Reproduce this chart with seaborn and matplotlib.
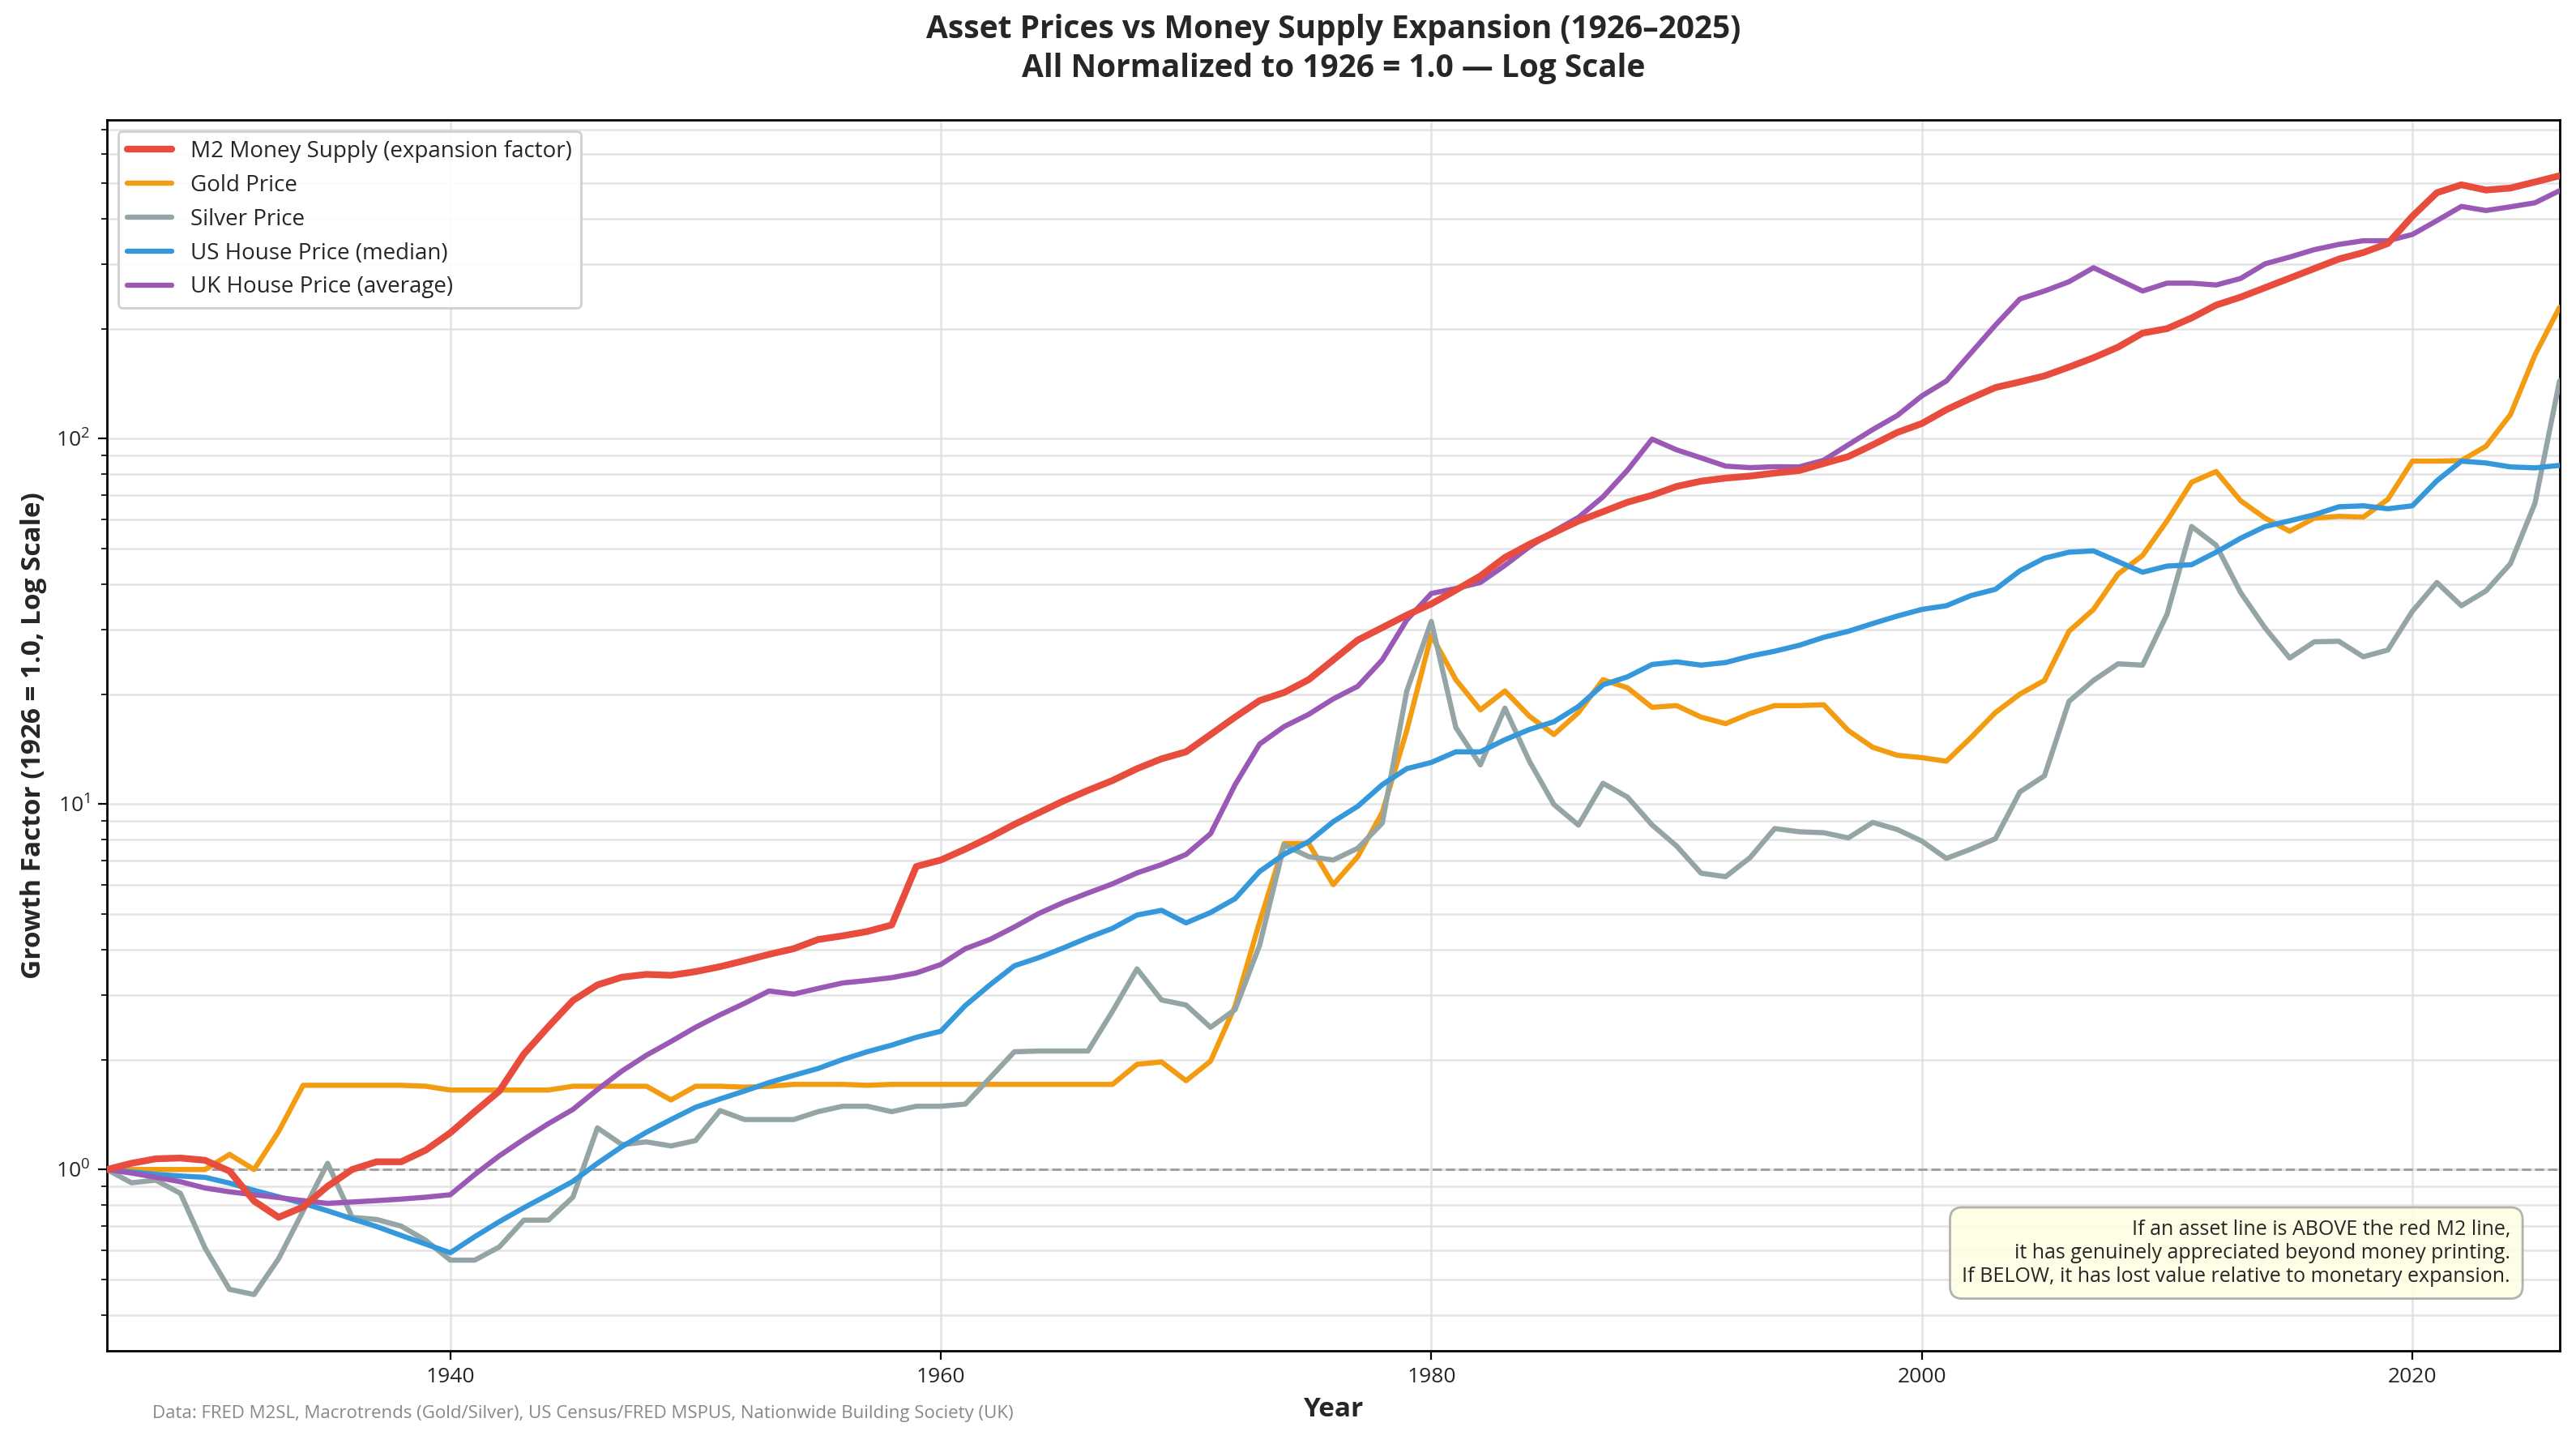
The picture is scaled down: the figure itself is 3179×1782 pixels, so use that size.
import numpy as np
import pandas as pd
import matplotlib
matplotlib.use("Agg")
import matplotlib.pyplot as plt
import matplotlib.ticker as mticker
import seaborn as sns

years = list(range(1926, 2027))

m2 = [1.00, 1.04, 1.07, 1.075, 1.06, 0.99, 0.82, 0.74, 0.79, 0.90,
      1.00, 1.05, 1.05, 1.13, 1.26, 1.44, 1.64, 2.07, 2.46, 2.90,
      3.20, 3.36, 3.42, 3.40, 3.48, 3.59, 3.73, 3.88, 4.02, 4.26,
      4.36, 4.48, 4.67, 6.75, 7.03, 7.53, 8.11, 8.80, 9.47, 10.2,
      10.9, 11.6, 12.5, 13.3, 13.9, 15.5, 17.3, 19.2, 20.2, 21.9,
      24.8, 28.1, 30.4, 32.9, 35.3, 38.5, 42.1, 47.3, 51.4, 55.3,
      59.5, 63.1, 67.0, 70.0, 74.0, 76.5, 78.0, 79.0, 80.5, 81.8,
      85.5, 89.3, 96.2, 104, 110, 120, 129, 138, 143, 148.5,
      157, 166.5, 178, 194.5, 200, 214, 232, 244, 259, 275,
      292, 310, 323, 342, 406, 471, 495, 479, 485, 504, 524]

gold = [1.00, 1.00, 1.00, 1.00, 1.00, 1.10, 1.00, 1.27, 1.70, 1.70,
        1.70, 1.70, 1.70, 1.69, 1.65, 1.65, 1.65, 1.65, 1.65, 1.69,
        1.69, 1.69, 1.69, 1.55, 1.69, 1.69, 1.68, 1.69, 1.71, 1.71,
        1.71, 1.70, 1.71, 1.71, 1.71, 1.71, 1.71, 1.71, 1.71, 1.71,
        1.71, 1.71, 1.94, 1.97, 1.75, 1.98, 2.80, 4.76, 7.8, 7.8,
        6.02, 7.18, 9.49, 15.9, 29.0, 21.9, 18.1, 20.4, 17.4, 15.5,
        17.8, 21.9, 20.8, 18.4, 18.6, 17.3, 16.6, 17.7, 18.6, 18.6,
        18.7, 15.9, 14.3, 13.6, 13.4, 13.1, 15.2, 17.8, 20.0, 21.8,
        29.7, 34.1, 42.6, 47.9, 59.6, 76.0, 81.3, 67.6, 60.6, 55.8,
        60.6, 61.3, 61.0, 68.2, 86.8, 86.8, 87.1, 95.3, 116.4, 169.5, 228.7]

silver = [1.00, 0.92, 0.935, 0.86, 0.61, 0.47, 0.455, 0.57, 0.77, 1.04,
          0.74, 0.73, 0.70, 0.64, 0.565, 0.565, 0.614, 0.727, 0.727, 0.84,
          1.30, 1.17, 1.19, 1.16, 1.20, 1.45, 1.37, 1.37, 1.37, 1.44,
          1.49, 1.49, 1.44, 1.49, 1.49, 1.51, 1.78, 2.10, 2.11, 2.11,
          2.11, 2.71, 3.54, 2.91, 2.82, 2.45, 2.74, 4.11, 7.73, 7.18,
          7.03, 7.57, 8.87, 20.4, 31.6, 16.2, 12.8, 18.3, 13.1, 9.97,
          8.76, 11.4, 10.45, 8.77, 7.68, 6.47, 6.33, 7.14, 8.57, 8.40,
          8.35, 8.08, 8.91, 8.52, 7.92, 7.10, 7.53, 8.04, 10.8, 11.95,
          19.1, 21.8, 24.2, 24.0, 33.1, 57.5, 51.1, 37.9, 30.3, 25.1,
          27.8, 27.9, 25.3, 26.4, 33.7, 40.4, 34.9, 38.3, 45.5, 66.6, 143.8]

us_house = [1.00, 0.985, 0.97, 0.96, 0.952, 0.918, 0.877, 0.842, 0.808, 0.771,
            0.733, 0.698, 0.66, 0.625, 0.592, 0.655, 0.72, 0.786, 0.853, 0.928,
            1.04, 1.155, 1.265, 1.37, 1.48, 1.56, 1.64, 1.73, 1.81, 1.89,
            2.00, 2.10, 2.19, 2.30, 2.39, 2.81, 3.20, 3.61, 3.80, 4.04,
            4.31, 4.57, 4.97, 5.12, 4.73, 5.05, 5.51, 6.54, 7.29, 7.89,
            8.95, 9.86, 11.3, 12.5, 13.0, 13.9, 13.9, 15.0, 16.0, 16.8,
            18.5, 21.2, 22.3, 24.1, 24.5, 24.0, 24.4, 25.4, 26.2, 27.2,
            28.6, 29.7, 31.2, 32.7, 34.1, 34.9, 37.2, 38.7, 43.5, 47.1,
            48.9, 49.3, 46.1, 43.1, 44.8, 45.2, 48.9, 53.4, 57.5, 59.6,
            61.9, 65.1, 65.5, 64.3, 65.5, 76.7, 86.8, 85.8, 83.7, 83.2, 84.5]

uk_house = [1.00, 0.978, 0.952, 0.926, 0.89, 0.869, 0.853, 0.838, 0.822, 0.808,
            0.815, 0.822, 0.83, 0.84, 0.853, 0.969, 1.09, 1.21, 1.335, 1.46,
            1.655, 1.86, 2.055, 2.24, 2.45, 2.65, 2.85, 3.08, 3.02, 3.13,
            3.24, 3.29, 3.35, 3.45, 3.64, 4.02, 4.26, 4.61, 5.02, 5.38,
            5.71, 6.05, 6.48, 6.83, 7.28, 8.3, 11.3, 14.6, 16.3, 17.6,
            19.4, 21.0, 24.8, 31.9, 37.7, 38.9, 40.4, 45.0, 50.6, 55.8,
            60.9, 69.3, 82.0, 99.7, 93.2, 88.6, 84.1, 83.3, 83.8, 83.7,
            87.3, 96.2, 105.9, 115.7, 130.9, 143.8, 171.5, 204.5, 241.1, 253.5,
            268.8, 293.6, 272.8, 253.5, 266.4, 266.4, 263.3, 274.4, 301, 314,
            329, 340, 348, 348, 362, 395, 432, 421, 431, 442, 477]

labels = ["M2 Money Supply (expansion factor)", "Gold Price", "Silver Price",
          "US House Price (median)", "UK House Price (average)"]
colors = ["#e74c3c", "#f39c12", "#95a5a6", "#3498db", "#9b59b6"]
series = [m2, gold, silver, us_house, uk_house]

sns.set_style("ticks")
plt.rcParams['font.family'] = ['Open Sans', 'Noto Sans', 'DejaVu Sans']

fig = plt.figure(figsize=(3179 / 200, 1782 / 200), dpi=200)
ax = fig.add_axes([0.0415, 0.0648, 0.9521, 0.8522])

for lab, col, vals in zip(labels, colors, series):
    df = pd.DataFrame({"Year": years, "Value": vals})
    lw = 3.0 if lab.startswith("M2") else 2.3
    sns.lineplot(data=df, x="Year", y="Value", ax=ax, color=col, linewidth=lw,
                 label=lab, zorder=5 if lab.startswith("M2") else 4)

ax.set_yscale("log")
ax.axhline(1.0, color="#999999", linestyle="--", linewidth=1.1, alpha=0.9, zorder=2)
ax.set_xlim(1926, 2026)
ax.xaxis.set_major_locator(mticker.MultipleLocator(20))

ax.grid(True, which="major", color="#dddddd", linewidth=0.9, alpha=0.8)
ax.grid(True, which="minor", axis="y", color="#dddddd", linewidth=0.9, alpha=0.8)
ax.set_axisbelow(True)
for s in ax.spines.values():
    s.set_color("black")
    s.set_linewidth(1.0)
ax.tick_params(axis="both", which="major", labelsize=9.5, length=4, color="black")
ax.tick_params(axis="y", which="minor", length=2.5, color="black")

ax.set_xlabel("Year", fontsize=12, fontweight="bold")
ax.set_ylabel("Growth Factor (1926 = 1.0, Log Scale)", fontsize=12, fontweight="bold")
ax.set_title("Asset Prices vs Money Supply Expansion (1926\u20132025)\n"
             "All Normalized to 1926 = 1.0 \u2014 Log Scale",
             fontsize=14, fontweight="bold", pad=19, linespacing=1.3)

leg = ax.legend(loc="upper left", fontsize=10, frameon=True, framealpha=0.9,
                edgecolor="#cccccc", fancybox=True)

ax.text(0.98, 0.052,
        "If an asset line is ABOVE the red M2 line,\n"
        "it has genuinely appreciated beyond money printing.\n"
        "If BELOW, it has lost value relative to monetary expansion.",
        transform=ax.transAxes, ha="right", va="bottom", fontsize=9,
        bbox=dict(boxstyle="round,pad=0.6", facecolor="#fefde3",
                  edgecolor="#aaaaaa", alpha=0.9), zorder=10)

fig.text(0.059, 0.015,
         "Data: FRED M2SL, Macrotrends (Gold/Silver), US Census/FRED MSPUS, Nationwide Building Society (UK)",
         fontsize=8, color="#888888", ha="left", va="bottom")

fig.savefig("out.png", dpi=200)
